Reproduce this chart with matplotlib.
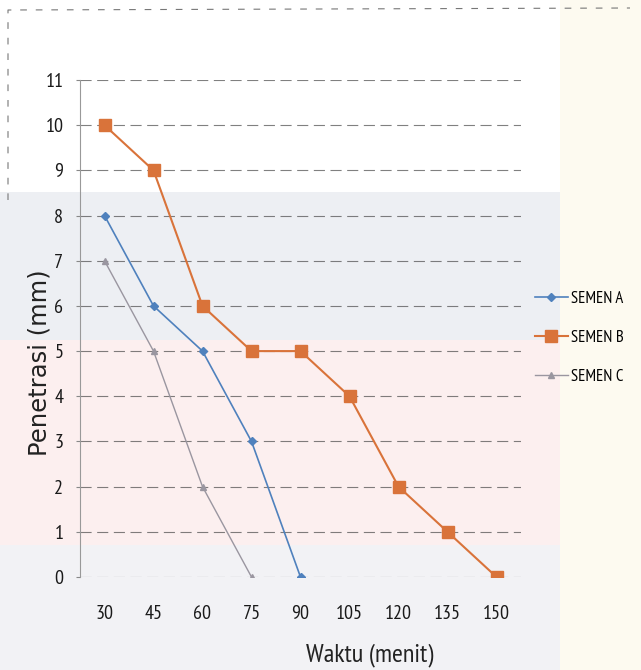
import matplotlib
matplotlib.use("Agg")
import matplotlib.pyplot as plt
from matplotlib.patches import Rectangle
from matplotlib import font_manager
from matplotlib.font_manager import FontProperties

# Data: penetration (mm) versus time (minutes) for three cement samples
waktu = [30, 45, 60, 75, 90, 105, 120, 135, 150]
semen_a = [8, 6, 5, 3, 0]
semen_b = [10, 9, 6, 5, 5, 4, 2, 1, 0]
semen_c = [7, 5, 2, 0]
y_ticks = list(range(0, 12))


def find_font(keys):
    for key in keys:
        for f in font_manager.fontManager.ttflist:
            base = f.fname.split("/")[-1]
            if all(k in base for k in key):
                return f.fname
    return None


cond_file = find_font([("Narrow", "Regular"), ("Condensed", "Regular"),
                       ("SansCondensed.",), ("Condensed",), ("Narrow",)])


def fp(size, weight="normal"):
    if cond_file:
        return FontProperties(fname=cond_file, size=size)
    return FontProperties(family="DejaVu Sans", size=size, weight=weight)


W, H = 641, 670
fig = plt.figure(figsize=(W / 100, H / 100), dpi=100)
fig.patch.set_facecolor("white")


# faint page background bands
def band(x0, y0, x1, y1, color):
    fig.patches.append(Rectangle((x0 / W, 1 - y1 / H), (x1 - x0) / W, (y1 - y0) / H,
                                 transform=fig.transFigure, facecolor=color,
                                 edgecolor="none", zorder=-10))


band(0, 192, 560, 340, "#edeff3")
band(0, 340, 560, 545, "#fcefef")
band(0, 545, 560, 670, "#f2f2f5")
band(560, 0, 641, 670, "#fdfaf0")

# dashed outer chart frame
fig.lines.append(plt.Line2D([8 / W, 8 / W, 630 / W], [1 - 200 / H, 1 - 10 / H, 1 - 8 / H],
                            transform=fig.transFigure, color="#777777", lw=0.8,
                            ls=(0, (6, 8)), zorder=-5))

ax = fig.add_axes([80 / W, 1 - 577 / H, 441 / W, 497 / H])
ax.set_facecolor("none")

xpos = list(range(len(waktu)))
ax.plot(xpos[:len(semen_a)], semen_a, color="#4f81bd", lw=1.2, marker="D",
        markersize=4.5, label="SEMEN A", zorder=3)
ax.plot(xpos[:len(semen_b)], semen_b, color="#d9733a", lw=1.5, marker="s",
        markersize=8, label="SEMEN B", zorder=4)
ax.plot(xpos[:len(semen_c)], semen_c, color="#9a96a0", lw=1.0, marker="^",
        markersize=4.5, label="SEMEN C", zorder=2)

ax.set_xlim(-0.5, len(waktu) - 0.5)
ax.set_ylim(0, 11)
ax.set_yticks(y_ticks)
ax.set_yticklabels([str(v) for v in y_ticks], fontproperties=fp(14.5), color="#1a1a1a")
ax.set_xticks(xpos)
ax.set_xticklabels([str(v) for v in waktu], fontproperties=fp(14.5), color="#1a1a1a")
ax.tick_params(axis="x", length=0, pad=20)
ax.tick_params(axis="y", length=3, pad=9, color="#888888")

ax.grid(axis="y", color="#555555", lw=0.8, ls=(0, (10, 5)), alpha=0.75)
for side in ("top", "right", "bottom"):
    ax.spines[side].set_visible(False)
ax.spines["left"].set_color("#999999")
ax.spines["left"].set_linewidth(0.8)

fig.text(40 / W, 1 - 363 / H, "Penetrasi (mm)", rotation=90, ha="center", va="center",
         fontsize=17.5, family="DejaVu Sans", color="#222222")
fig.text(370 / W, 1 - 655 / H, "Waktu (menit)", ha="center", va="center",
         fontproperties=fp(19), color="#222222")

ax.legend(loc="center left", bbox_to_anchor=(448 / 441, (577 - 338) / 497),
          frameon=False, prop=fp(12), handlelength=2.0,
          labelspacing=1.4, handletextpad=0.2, borderaxespad=0)

fig.savefig("out.png", dpi=100)
